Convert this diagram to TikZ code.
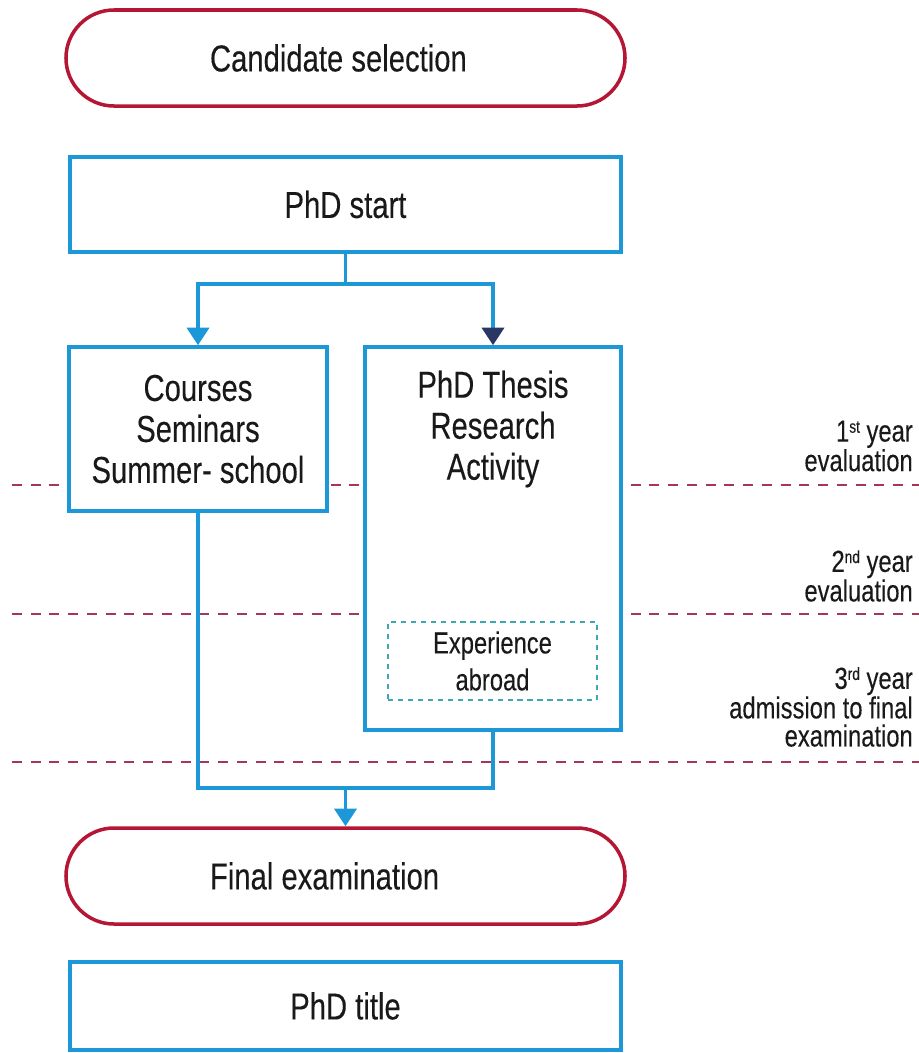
\documentclass[tikz,border=0pt]{standalone}
\usepackage{fontspec}
\setmainfont{Liberation Sans}[FakeStretch=0.78, FakeBold=0.2]
\usetikzlibrary{arrows.meta,positioning}
\definecolor{pillred}{RGB}{180,22,52}
\definecolor{boxblue}{RGB}{28,152,216}
\definecolor{tipnavy}{RGB}{40,55,100}
\definecolor{dashred}{RGB}{165,55,85}
\definecolor{abroadteal}{RGB}{60,168,178}
\definecolor{inkdark}{RGB}{25,25,25}
\newcommand\stagefont{\fontsize{32}{35}\selectfont}
\newcommand\notefont{\fontsize{26}{24}\selectfont}
\newcommand\yrsup[1]{\raisebox{0.55ex}{\fontsize{15}{15}\selectfont #1}}
\tikzset{
  pill/.style={draw=pillred, line width=3pt, fill=white, rounded corners=1.44cm,
    minimum height=2.88cm, text width=8.13cm, align=flush left, inner xsep=4.32cm,
    inner ysep=0pt, text=inkdark, font=\stagefont},
  stagebox/.style={draw=boxblue, line width=3pt, fill=white, align=center,
    inner sep=0pt, text=inkdark, font=\stagefont},
  stagetxt/.style={align=center, inner sep=0pt, text=inkdark, font=\stagefont},
  abroadbox/.style={draw=abroadteal, line width=1.3pt, dash pattern=on 4.5pt off 4pt,
    fill=white, align=center, inner sep=0pt, text=inkdark,
    font=\fontsize{26}{31.5}\selectfont},
  yearnote/.style={align=right, inner sep=0pt, text=inkdark, font=\notefont},
  yearline/.style={dashred, line width=1.4pt, dash pattern=on 8.5pt off 7.5pt},
  flow/.style={boxblue, line width=3pt},
  flowtip/.style={flow, -{Triangle[width=18.8pt,length=15pt]}},
  navytip/.style={flow, -{Triangle[width=18.8pt,length=15pt,color=tipnavy]}}
}
\begin{document}
\begin{tikzpicture}[x=0.03cm, y=-0.03cm]
  \useasboundingbox (0,0) rectangle (919,1053); %tamanho da figura
    %Linhas das avaliacoes
  \draw[yearline] (12,485) -- (919,485);
  \draw[yearline] (12,614) -- (919,614);
  \draw[yearline] (12,762) -- (919,762);
    %Etapas
  \node[pill] (selection) at (345.5,58) {Candidate selection};
  \node[stagebox, minimum width=16.53cm, minimum height=2.85cm] (start) at (345.5,204.5) {PhD start};
  \node[stagebox, minimum width=7.74cm, minimum height=4.92cm] (courses) at (198,429) {Courses\\Seminars\\Summer- school};
  \node[stagebox, minimum width=7.68cm, minimum height=11.49cm] (thesis) at (493,538.5) {};
  \node[stagetxt] (thesistxt) at (thesis.center |- courses.center) {PhD Thesis\\Research\\Activity};
  \node[abroadbox, minimum width=6.27cm, minimum height=2.34cm] (abroad) at (492.5,661) {Experience\\abroad};
  \node[pill] (final) at (345.5,876) {Final examination};
  \node[stagebox, minimum width=16.53cm, minimum height=2.64cm] (title) at (345.5,1006) {PhD title};
    %Conexoes
  \draw[flow] (start.south) -- ++(0,30) coordinate (split);
  \draw[flowtip] (split) -| (courses.north);
  \draw[navytip] (split) -| (thesis.north);
  \coordinate (join) at (start.south |- 0,788);
  \draw[flow] (courses.south) |- (join);
  \draw[flow] (thesis.south) |- (join);
  \draw[flowtip] (join) -- (final.north);
    %Anos
  \node[yearnote, anchor=east] (year1) at (913,446) {1\yrsup{st} year\\evaluation};
  \node[yearnote, anchor=east] (year2) at (913,576) {2\yrsup{nd} year\\evaluation};
  \node[yearnote, anchor=east] (year3) at (913,707) {3\yrsup{rd} year\\admission to final\\examination};
\end{tikzpicture}
\end{document}
